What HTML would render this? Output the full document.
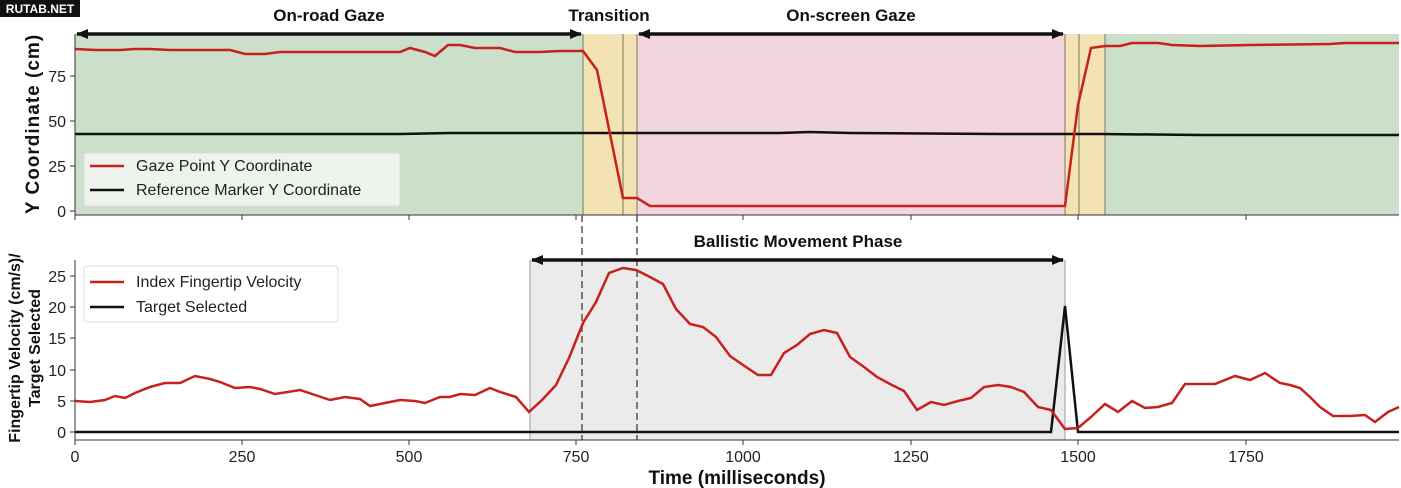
<!DOCTYPE html>
<html><head><meta charset="utf-8"><style>
body{margin:0;background:#fff}
svg{display:block;font-family:"Liberation Sans",sans-serif}
</style></head><body>
<svg width="1401" height="488" viewBox="0 0 1401 488" xmlns="http://www.w3.org/2000/svg">
<defs>
<marker id="ah" markerWidth="12" markerHeight="10" refX="11" refY="5" orient="auto-start-reverse" markerUnits="userSpaceOnUse"><path d="M0,0 L12,5 L0,10 z" fill="#111"/></marker>
</defs>
<rect x="75" y="34" width="508" height="181" fill="#ccdfcb"/>
<rect x="583" y="34" width="54" height="181" fill="#f3e2b3"/>
<rect x="637" y="34" width="428" height="181" fill="#f2d5df"/>
<rect x="1065" y="34" width="40" height="181" fill="#f3e2b3"/>
<rect x="1105" y="34" width="294" height="181" fill="#ccdfcb"/>
<g stroke="#8a8a70" stroke-width="1.2">
<line x1="583" y1="34" x2="583" y2="215"/><line x1="623" y1="34" x2="623" y2="215"/><line x1="637" y1="34" x2="637" y2="215"/>
<line x1="1065" y1="34" x2="1065" y2="215"/><line x1="1079" y1="34" x2="1079" y2="215"/><line x1="1105" y1="34" x2="1105" y2="215"/>
</g>
<polyline fill="none" stroke="#111" stroke-width="2.5" points="75,134 300,134 400,134 450,133 600,133 700,133 780,133 810,132 850,133 1000,134 1100,134 1200,135 1399,135"/>
<polyline fill="none" stroke="#c8201c" stroke-width="2.5" points="75,49 95,50 120,50 135,49 150,49 170,50 230,50 245,54 265,54 280,52 400,52 410,48 425,52 435,56 448,45 460,45 475,48 500,48 515,52 540,52 560,51 583,51 597,70 623,198 637,198 650,206 1065,206 1078,105 1091,48 1105,46 1120,46 1132,43 1158,43 1172,45 1200,46 1250,45 1330,44 1345,43 1399,43"/>
<line x1="75" y1="34" x2="75" y2="215" stroke="#333" stroke-width="1"/>
<line x1="75" y1="215" x2="1399" y2="215" stroke="#333" stroke-width="1"/>
<g stroke="#333"><line x1="70" y1="76" x2="75" y2="76"/><line x1="70" y1="121" x2="75" y2="121"/><line x1="70" y1="166" x2="75" y2="166"/><line x1="70" y1="211" x2="75" y2="211"/>
<line x1="75" y1="215" x2="75" y2="220"/><line x1="242" y1="215" x2="242" y2="220"/><line x1="409" y1="215" x2="409" y2="220"/><line x1="576" y1="215" x2="576" y2="220"/><line x1="743" y1="215" x2="743" y2="220"/><line x1="911" y1="215" x2="911" y2="220"/><line x1="1078" y1="215" x2="1078" y2="220"/><line x1="1246" y1="215" x2="1246" y2="220"/></g>
<g font-size="16" fill="#222" text-anchor="end"><text x="66" y="82">75</text><text x="66" y="127">50</text><text x="66" y="172">25</text><text x="66" y="217">0</text></g>
<rect x="84" y="153" width="316" height="53" fill="#f4f7f3" fill-opacity="0.85" stroke="#ddd" rx="3"/>
<line x1="90" y1="166" x2="124" y2="166" stroke="#c8201c" stroke-width="2.5"/>
<line x1="90" y1="190" x2="124" y2="190" stroke="#111" stroke-width="2.5"/>
<g font-size="16" fill="#222"><text x="136" y="171">Gaze Point Y Coordinate</text><text x="136" y="195">Reference Marker Y Coordinate</text></g>
<line x1="77" y1="34" x2="581" y2="34" stroke="#111" stroke-width="3.5" marker-start="url(#ah)" marker-end="url(#ah)"/>
<line x1="639" y1="34" x2="1063" y2="34" stroke="#111" stroke-width="3.5" marker-start="url(#ah)" marker-end="url(#ah)"/>
<g font-size="17" font-weight="bold" fill="#111" text-anchor="middle"><text x="329" y="21">On-road Gaze</text><text x="609" y="21">Transition</text><text x="851" y="21">On-screen Gaze</text></g>
<text transform="translate(39,124) rotate(-90)" font-size="19" font-weight="bold" fill="#111" text-anchor="middle" letter-spacing="1">Y Coordinate (cm)</text>
<rect x="530" y="260" width="535" height="180" fill="#ebebeb"/>
<line x1="530" y1="260" x2="530" y2="440" stroke="#aaa" stroke-width="1.2"/>
<line x1="1065" y1="260" x2="1065" y2="440" stroke="#aaa" stroke-width="1.2"/>
<line x1="582" y1="215" x2="582" y2="440" stroke="#555" stroke-width="1.5" stroke-dasharray="7,4"/>
<line x1="637" y1="215" x2="637" y2="440" stroke="#555" stroke-width="1.5" stroke-dasharray="7,4"/>
<line x1="532" y1="260" x2="1063" y2="260" stroke="#111" stroke-width="3.5" marker-start="url(#ah)" marker-end="url(#ah)"/>
<text x="798" y="247" font-size="17" font-weight="bold" fill="#111" text-anchor="middle">Ballistic Movement Phase</text>
<polyline fill="none" stroke="#111" stroke-width="2.5" points="75,432 1051,432 1065,306 1078,432 1399,432"/>
<polyline fill="none" stroke="#c8201c" stroke-width="2.5" points="75,401 90,402 105,400 115,396 125,398 135,393 150,387 165,383 180,383 195,376 210,379 220,382 235,388 250,387 260,389 275,394 300,390 315,395 330,400 345,397 360,399 370,406 385,403 400,400 415,401 425,403 440,397 450,397 460,394 475,395 490,388 500,392 516,397 529,412 542,400 556,385 569,358 583,323 596,302 609,273 623,268 636,270 650,277 663,284 676,309 690,324 703,327 716,337 730,356 743,365 758,375 771,375 784,353 797,345 810,334 824,330 837,333 850,357 864,367 877,377 890,384 904,391 917,410 931,402 944,405 958,401 971,398 984,387 998,385 1011,387 1024,392 1038,407 1051,410 1065,429 1078,428 1091,417 1105,404 1118,412 1132,401 1145,408 1158,407 1172,403 1185,384 1199,384 1215,384 1235,376 1250,380 1265,373 1280,383 1290,385 1300,388 1310,397 1320,407 1333,416 1350,416 1365,415 1375,422 1388,412 1399,407"/>
<line x1="75" y1="260" x2="75" y2="440" stroke="#333"/>
<line x1="75" y1="440" x2="1399" y2="440" stroke="#333"/>
<g stroke="#333"><line x1="70" y1="432" x2="75" y2="432"/><line x1="70" y1="401" x2="75" y2="401"/><line x1="70" y1="370" x2="75" y2="370"/><line x1="70" y1="338" x2="75" y2="338"/><line x1="70" y1="307" x2="75" y2="307"/><line x1="70" y1="276" x2="75" y2="276"/>
<line x1="75" y1="440" x2="75" y2="445"/><line x1="242" y1="440" x2="242" y2="445"/><line x1="409" y1="440" x2="409" y2="445"/><line x1="576" y1="440" x2="576" y2="445"/><line x1="743" y1="440" x2="743" y2="445"/><line x1="911" y1="440" x2="911" y2="445"/><line x1="1078" y1="440" x2="1078" y2="445"/><line x1="1246" y1="440" x2="1246" y2="445"/></g>
<g font-size="16" fill="#222" text-anchor="end"><text x="66" y="438">0</text><text x="66" y="407">5</text><text x="66" y="376">10</text><text x="66" y="344">15</text><text x="66" y="313">20</text><text x="66" y="282">25</text></g>
<g font-size="16" fill="#222" text-anchor="middle"><text x="75" y="462">0</text><text x="242" y="462">250</text><text x="409" y="462">500</text><text x="576" y="462">750</text><text x="743" y="462">1000</text><text x="911" y="462">1250</text><text x="1078" y="462">1500</text><text x="1246" y="462">1750</text></g>
<rect x="84" y="266" width="254" height="56" fill="#fff" fill-opacity="0.85" stroke="#ddd" rx="3"/>
<line x1="90" y1="282" x2="124" y2="282" stroke="#c8201c" stroke-width="2.5"/>
<line x1="90" y1="307" x2="124" y2="307" stroke="#111" stroke-width="2.5"/>
<g font-size="16" fill="#222"><text x="136" y="287">Index Fingertip Velocity</text><text x="136" y="312">Target Selected</text></g>
<text x="737" y="484" font-size="19" font-weight="bold" fill="#111" text-anchor="middle">Time (milliseconds)</text>
<text transform="translate(20,348) rotate(-90)" font-size="16" font-weight="bold" fill="#111" text-anchor="middle">Fingertip Velocity (cm/s)/</text>
<text transform="translate(40,348) rotate(-90)" font-size="16" font-weight="bold" fill="#111" text-anchor="middle">Target Selected</text>
<rect x="0" y="0" width="80" height="17" fill="#111"/>
<text x="40" y="13" font-size="12" font-weight="bold" fill="#fff" text-anchor="middle">RUTAB.NET</text>
</svg>
</body></html>
